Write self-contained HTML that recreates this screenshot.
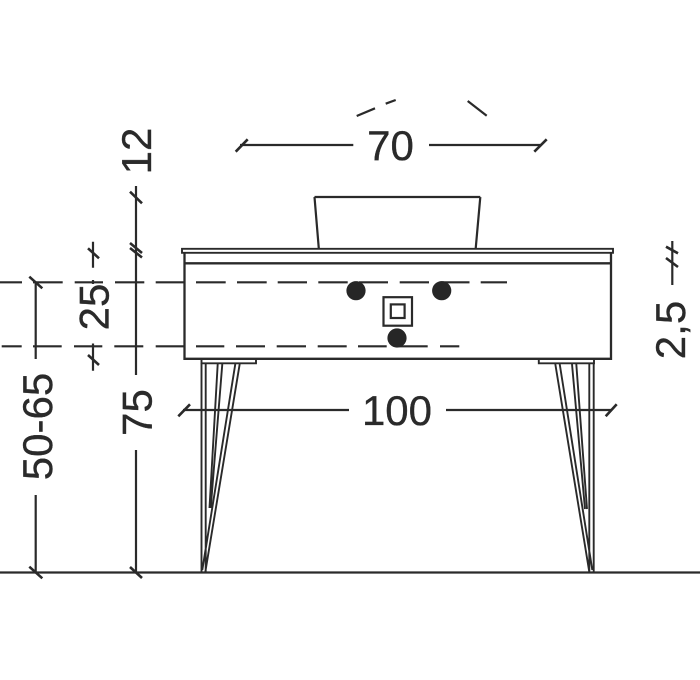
<!DOCTYPE html>
<html><head><meta charset="utf-8"><style>
html,body{margin:0;padding:0;background:#fff}
svg{display:block}
text{font-family:"Liberation Sans",sans-serif;font-size:42px;fill:#2a2a2a;stroke:#2a2a2a;stroke-width:.35;text-anchor:middle}
</style></head><body>
<svg width="700" height="680" viewBox="0 0 700 680" xmlns="http://www.w3.org/2000/svg">
<g fill="none" stroke="#2a2a2a" stroke-width="2.2">
<!-- ground -->
<path d="M0 572.5H700"/>
<!-- slab and cabinet -->
<path d="M314.5 197H480.3M314.5 197L318.8 248.5M480.3 197L475.7 248.5"/>
<path d="M182 248.8H613V252.8H182Z" stroke-width="1.9"/>
<path d="M184.5 253V358.8H611V253M184.5 263.3H611" stroke-width="2.3"/>
<!-- dashes upper -->
<path d="M0 282.3H22M33 282.3H62.7M74.7 282.3H103M115 282.3H144.3M155.7 282.3H184M196 282.3H225.7M237 282.3H266.7M277.7 282.3H307M318.3 282.3H347.7M359 282.3H388M399.7 282.3H429M440.5 282.3H469.5M480.7 282.3H507"/>
<!-- dashes lower -->
<path d="M1.7 346.3H21.7M33 346.3H61.7M74 346.3H102.3M114.3 346.3H143.3M155.7 346.3H184M196 346.3H224.3M236 346.3H265M276.7 346.3H306M317.7 346.3H346.7M358 346.3H386.7M397 346.3H427.7M440 346.3H459.3"/>
<!-- outlet square -->
<rect x="383.5" y="297.2" width="28.5" height="28.5" stroke-width="2.2"/>
<rect x="390.8" y="304.4" width="13.8" height="13.6" stroke-width="2.2"/>
<!-- left leg -->
<path d="M201.5 359.5V363.3H256V359.5" stroke-width="1.9"/>
<path d="M201.5 363V572M205.7 363V572M217.7 364L209.5 508M222.3 364L210.7 508M235.3 364L202.3 570M239.7 364L205.3 572" stroke-width="1.9"/>
<!-- right leg -->
<path d="M538.8 359.5V363.3H594V359.5" stroke-width="1.9"/>
<path d="M589.3 363V572M593.7 363V572M572 364L585 509M576.3 364L587 509M555.3 364L589.3 572M559.7 364L592.3 570" stroke-width="1.9"/>
<!-- top fragments -->
<path d="M356.7 116L375 108.3M385.7 103.7L395.7 100M467.7 101L486.7 115.7"/>
<!-- dim 70 -->
<path d="M240 145H353.3M429 145H541"/>
<path d="M235.7 151.7L247.7 139.3M534.3 151.7L546.7 139.3" stroke-width="2.6"/>
<!-- dim 100 -->
<path d="M183 410H349M446 410H612"/>
<path d="M178.3 416.3L190 404.3M605.7 416.3L616.7 404.3" stroke-width="2.6"/>
<!-- dim 12 / 75 -->
<path d="M136 186V375M136 450V572"/>
<path d="M130 191.7L142 203.3M130 243L142 253M130 248L142 257.5M130 567L142 578" stroke-width="2.6"/>
<!-- dim 50-65 -->
<path d="M35.7 282V359M35.7 495V572"/>
<path d="M29.3 276.7L42.3 288.3M29.3 566.7L42.3 578.3" stroke-width="2.6"/>
<!-- dim 25 -->
<path d="M93 241.7V267.7M93 280V284M93 343.5V370.7"/>
<path d="M88 248.3L99 258.3M88 355L99 365" stroke-width="2.6"/>
<!-- dim 2,5 -->
<path d="M672.3 241V285"/>
<path d="M666 246.7L678 253.3M666 258L678 267" stroke-width="2.6"/>
</g>
<circle cx="356" cy="290.7" r="9.6" fill="#262626"/>
<circle cx="441.7" cy="290.7" r="9.6" fill="#262626"/>
<circle cx="397" cy="338" r="9.6" fill="#262626"/>
<text x="390.5" y="160">70</text>
<text x="397" y="425">100</text>
<text transform="translate(151 151) rotate(-90)">12</text>
<text transform="translate(151.3 412.5) rotate(-90)">75</text>
<text transform="translate(108.5 307) rotate(-90)">25</text>
<text transform="translate(52 426.5) rotate(-90)">50-65</text>
<text transform="translate(685 330) rotate(-90)">2,5</text>
</svg>
</body></html>
